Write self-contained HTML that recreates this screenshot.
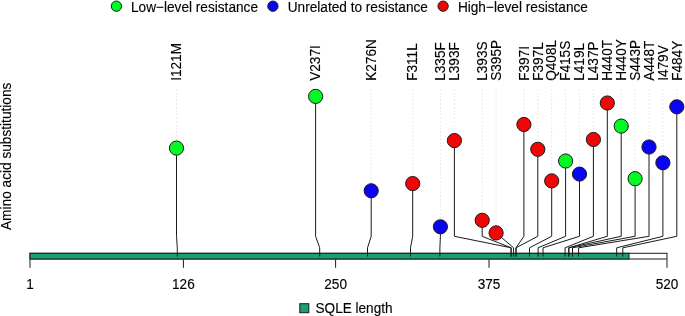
<!DOCTYPE html>
<html><head><meta charset="utf-8"><title>SQLE lollipop</title>
<style>
html,body{margin:0;padding:0;background:#fff;}
svg{display:block;will-change:transform;}
text{font-family:"Liberation Sans",Arial,Helvetica,sans-serif;font-size:13.6px;fill:#000;stroke:#000;stroke-width:0.12px;}
</style></head><body>
<svg width="685" height="316" viewBox="0 0 685 316">
<rect x="0" y="0" width="685" height="316" fill="#fff"/>

<circle cx="116.4" cy="6.2" r="5.15" fill="#02F926" stroke="#1a1a1a" stroke-width="1"/>
<text transform="translate(131.0,11.5) scale(1,1.09)" style="font-size:13.65px">Low−level resistance</text>
<circle cx="272.9" cy="6.2" r="5.15" fill="#0905F3" stroke="#1a1a1a" stroke-width="1"/>
<text transform="translate(287.7,11.5) scale(1,1.09)" style="font-size:13.65px">Unrelated to resistance</text>
<circle cx="443.1" cy="6.2" r="5.15" fill="#F20505" stroke="#1a1a1a" stroke-width="1"/>
<text transform="translate(457.9,11.5) scale(1,1.09)" style="font-size:13.65px">High−level resistance</text>
<text transform="translate(11.1,156.3) rotate(-90) scale(1,1.07)" text-anchor="middle" style="font-size:13.68px">Amino acid substitutions</text>
<line x1="176.5" y1="89.3" x2="176.5" y2="141.1" stroke="#cccccc" stroke-width="0.8" stroke-dasharray="1 2.55"/>
<line x1="315.6" y1="89.3" x2="315.6" y2="89.4" stroke="#cccccc" stroke-width="0.8" stroke-dasharray="1 2.55"/>
<line x1="371.2" y1="89.3" x2="371.2" y2="183.8" stroke="#cccccc" stroke-width="0.8" stroke-dasharray="1 2.55"/>
<line x1="412.7" y1="89.3" x2="412.7" y2="176.6" stroke="#cccccc" stroke-width="0.8" stroke-dasharray="1 2.55"/>
<line x1="440.4" y1="89.3" x2="440.4" y2="219.8" stroke="#cccccc" stroke-width="0.8" stroke-dasharray="1 2.55"/>
<line x1="454.4" y1="89.3" x2="454.4" y2="133.6" stroke="#cccccc" stroke-width="0.8" stroke-dasharray="1 2.55"/>
<line x1="482.2" y1="89.3" x2="482.2" y2="213.3" stroke="#cccccc" stroke-width="0.8" stroke-dasharray="1 2.55"/>
<line x1="496.1" y1="89.3" x2="496.1" y2="225.9" stroke="#cccccc" stroke-width="0.8" stroke-dasharray="1 2.55"/>
<line x1="523.9" y1="89.3" x2="523.9" y2="117.5" stroke="#cccccc" stroke-width="0.8" stroke-dasharray="1 2.55"/>
<line x1="537.8" y1="89.3" x2="537.8" y2="142.3" stroke="#cccccc" stroke-width="0.8" stroke-dasharray="1 2.55"/>
<line x1="551.7" y1="89.3" x2="551.7" y2="173.9" stroke="#cccccc" stroke-width="0.8" stroke-dasharray="1 2.55"/>
<line x1="565.6" y1="89.3" x2="565.6" y2="154.0" stroke="#cccccc" stroke-width="0.8" stroke-dasharray="1 2.55"/>
<line x1="579.5" y1="89.3" x2="579.5" y2="167.1" stroke="#cccccc" stroke-width="0.8" stroke-dasharray="1 2.55"/>
<line x1="593.4" y1="89.3" x2="593.4" y2="132.5" stroke="#cccccc" stroke-width="0.8" stroke-dasharray="1 2.55"/>
<line x1="607.3" y1="89.3" x2="607.3" y2="96.0" stroke="#cccccc" stroke-width="0.8" stroke-dasharray="1 2.55"/>
<line x1="621.2" y1="89.3" x2="621.2" y2="119.1" stroke="#cccccc" stroke-width="0.8" stroke-dasharray="1 2.55"/>
<line x1="635.1" y1="89.3" x2="635.1" y2="171.7" stroke="#cccccc" stroke-width="0.8" stroke-dasharray="1 2.55"/>
<line x1="649.0" y1="89.3" x2="649.0" y2="140.0" stroke="#cccccc" stroke-width="0.8" stroke-dasharray="1 2.55"/>
<line x1="662.9" y1="89.3" x2="662.9" y2="155.8" stroke="#cccccc" stroke-width="0.8" stroke-dasharray="1 2.55"/>
<line x1="676.8" y1="89.3" x2="676.8" y2="99.8" stroke="#cccccc" stroke-width="0.8" stroke-dasharray="1 2.55"/>
<rect x="30.0" y="253.3" width="637.0" height="5.7" fill="#fff" stroke="#1a1a1a" stroke-width="1"/>
<rect x="30.0" y="253.3" width="599.0" height="5.7" fill="#1B9E77" stroke="#1a1a1a" stroke-width="1"/>
<path d="M176.5 148.1 L176.5 236.3 L177.3 247.8 L177.3 256.5" fill="none" stroke="#1a1a1a" stroke-width="1" stroke-linejoin="round"/>
<path d="M315.6 96.4 L315.6 236.3 L319.7 247.8 L319.7 256.5" fill="none" stroke="#1a1a1a" stroke-width="1" stroke-linejoin="round"/>
<path d="M371.2 190.8 L371.2 236.3 L367.5 247.8 L367.5 256.5" fill="none" stroke="#1a1a1a" stroke-width="1" stroke-linejoin="round"/>
<path d="M412.7 183.6 L412.7 236.3 L410.5 247.8 L410.5 256.5" fill="none" stroke="#1a1a1a" stroke-width="1" stroke-linejoin="round"/>
<path d="M440.4 226.8 L440.4 236.3 L439.9 247.8 L439.9 256.5" fill="none" stroke="#1a1a1a" stroke-width="1" stroke-linejoin="round"/>
<path d="M454.4 140.6 L454.4 236.3 L511.1 247.8 L511.1 256.5" fill="none" stroke="#1a1a1a" stroke-width="1" stroke-linejoin="round"/>
<path d="M482.2 220.3 L482.2 236.3 L511.1 247.8 L511.1 256.5" fill="none" stroke="#1a1a1a" stroke-width="1" stroke-linejoin="round"/>
<path d="M496.1 232.9 L513.6 247.8 L513.6 256.5" fill="none" stroke="#1a1a1a" stroke-width="1" stroke-linejoin="round"/>
<path d="M523.9 124.5 L523.9 236.3 L516.0 247.8 L516.0 256.5" fill="none" stroke="#1a1a1a" stroke-width="1" stroke-linejoin="round"/>
<path d="M537.8 149.3 L537.8 236.3 L516.0 247.8 L516.0 256.5" fill="none" stroke="#1a1a1a" stroke-width="1" stroke-linejoin="round"/>
<path d="M551.7 180.9 L551.7 236.3 L529.5 247.8 L529.5 256.5" fill="none" stroke="#1a1a1a" stroke-width="1" stroke-linejoin="round"/>
<path d="M565.6 161 L565.6 236.3 L538.1 247.8 L538.1 256.5" fill="none" stroke="#1a1a1a" stroke-width="1" stroke-linejoin="round"/>
<path d="M579.5 174.1 L579.5 236.3 L543.0 247.8 L543.0 256.5" fill="none" stroke="#1a1a1a" stroke-width="1" stroke-linejoin="round"/>
<path d="M593.4 139.5 L593.4 236.3 L565.1 247.8 L565.1 256.5" fill="none" stroke="#1a1a1a" stroke-width="1" stroke-linejoin="round"/>
<path d="M607.3 103 L607.3 236.3 L568.8 247.8 L568.8 256.5" fill="none" stroke="#1a1a1a" stroke-width="1" stroke-linejoin="round"/>
<path d="M621.2 126.1 L621.2 236.3 L568.8 247.8 L568.8 256.5" fill="none" stroke="#1a1a1a" stroke-width="1" stroke-linejoin="round"/>
<path d="M635.1 178.7 L635.1 236.3 L572.5 247.8 L572.5 256.5" fill="none" stroke="#1a1a1a" stroke-width="1" stroke-linejoin="round"/>
<path d="M649.0 147 L649.0 236.3 L578.6 247.8 L578.6 256.5" fill="none" stroke="#1a1a1a" stroke-width="1" stroke-linejoin="round"/>
<path d="M662.9 162.8 L662.9 236.3 L616.7 247.8 L616.7 256.5" fill="none" stroke="#1a1a1a" stroke-width="1" stroke-linejoin="round"/>
<path d="M676.8 106.8 L676.8 236.3 L622.8 247.8 L622.8 256.5" fill="none" stroke="#1a1a1a" stroke-width="1" stroke-linejoin="round"/>
<circle cx="176.5" cy="148.1" r="7.1" fill="#02F926" stroke="#1a1a1a" stroke-width="1"/>
<circle cx="315.6" cy="96.4" r="7.1" fill="#02F926" stroke="#1a1a1a" stroke-width="1"/>
<circle cx="371.2" cy="190.8" r="7.1" fill="#0905F3" stroke="#1a1a1a" stroke-width="1"/>
<circle cx="412.7" cy="183.6" r="7.1" fill="#F20505" stroke="#1a1a1a" stroke-width="1"/>
<circle cx="440.4" cy="226.8" r="7.1" fill="#0905F3" stroke="#1a1a1a" stroke-width="1"/>
<circle cx="454.4" cy="140.6" r="7.1" fill="#F20505" stroke="#1a1a1a" stroke-width="1"/>
<circle cx="482.2" cy="220.3" r="7.1" fill="#F20505" stroke="#1a1a1a" stroke-width="1"/>
<circle cx="496.1" cy="232.9" r="7.1" fill="#F20505" stroke="#1a1a1a" stroke-width="1"/>
<circle cx="523.9" cy="124.5" r="7.1" fill="#F20505" stroke="#1a1a1a" stroke-width="1"/>
<circle cx="537.8" cy="149.3" r="7.1" fill="#F20505" stroke="#1a1a1a" stroke-width="1"/>
<circle cx="551.7" cy="180.9" r="7.1" fill="#F20505" stroke="#1a1a1a" stroke-width="1"/>
<circle cx="565.6" cy="161" r="7.1" fill="#02F926" stroke="#1a1a1a" stroke-width="1"/>
<circle cx="579.5" cy="174.1" r="7.1" fill="#0905F3" stroke="#1a1a1a" stroke-width="1"/>
<circle cx="593.4" cy="139.5" r="7.1" fill="#F20505" stroke="#1a1a1a" stroke-width="1"/>
<circle cx="607.3" cy="103" r="7.1" fill="#F20505" stroke="#1a1a1a" stroke-width="1"/>
<circle cx="621.2" cy="126.1" r="7.1" fill="#02F926" stroke="#1a1a1a" stroke-width="1"/>
<circle cx="635.1" cy="178.7" r="7.1" fill="#02F926" stroke="#1a1a1a" stroke-width="1"/>
<circle cx="649.0" cy="147" r="7.1" fill="#0905F3" stroke="#1a1a1a" stroke-width="1"/>
<circle cx="662.9" cy="162.8" r="7.1" fill="#0905F3" stroke="#1a1a1a" stroke-width="1"/>
<circle cx="676.8" cy="106.8" r="7.1" fill="#0905F3" stroke="#1a1a1a" stroke-width="1"/>
<text transform="translate(181.25,80.8) rotate(-90) scale(1,1.07)">I121M</text>
<text transform="translate(320.35,80.8) rotate(-90) scale(1,1.07)">V237I</text>
<text transform="translate(375.95,80.8) rotate(-90) scale(1,1.07)">K276N</text>
<text transform="translate(417.45,80.8) rotate(-90) scale(1,1.07)">F311L</text>
<text transform="translate(445.15,80.8) rotate(-90) scale(1,1.07)">L335F</text>
<text transform="translate(459.15,80.8) rotate(-90) scale(1,1.07)">L393F</text>
<text transform="translate(486.95,80.8) rotate(-90) scale(1,1.07)">L393S</text>
<text transform="translate(500.85,80.8) rotate(-90) scale(1,1.07)">S395P</text>
<text transform="translate(528.65,80.8) rotate(-90) scale(1,1.07)">F397I</text>
<text transform="translate(542.55,80.8) rotate(-90) scale(1,1.07)">F397L</text>
<text transform="translate(556.45,80.8) rotate(-90) scale(1,1.07)">Q408L</text>
<text transform="translate(570.35,80.8) rotate(-90) scale(1,1.07)">F415S</text>
<text transform="translate(584.25,80.8) rotate(-90) scale(1,1.07)">L419L</text>
<text transform="translate(598.15,80.8) rotate(-90) scale(1,1.07)">L437P</text>
<text transform="translate(612.05,80.8) rotate(-90) scale(1,1.07)">H440T</text>
<text transform="translate(625.95,80.8) rotate(-90) scale(1,1.07)">H440Y</text>
<text transform="translate(639.85,80.8) rotate(-90) scale(1,1.07)">S443P</text>
<text transform="translate(653.75,80.8) rotate(-90) scale(1,1.07)">A448T</text>
<text transform="translate(667.65,80.8) rotate(-90) scale(1,1.07)">I479V</text>
<text transform="translate(681.55,80.8) rotate(-90) scale(1,1.07)">F484Y</text>
<line x1="30.0" y1="259.5" x2="30.0" y2="267.8" stroke="#1a1a1a" stroke-width="1"/>
<text transform="translate(30.0,288.6) scale(1,1.09)" text-anchor="middle">1</text>
<line x1="183.4" y1="259.5" x2="183.4" y2="267.8" stroke="#1a1a1a" stroke-width="1"/>
<text transform="translate(183.4,288.6) scale(1,1.09)" text-anchor="middle">126</text>
<line x1="335.6" y1="259.5" x2="335.6" y2="267.8" stroke="#1a1a1a" stroke-width="1"/>
<text transform="translate(335.6,288.6) scale(1,1.09)" text-anchor="middle">250</text>
<line x1="489.0" y1="259.5" x2="489.0" y2="267.8" stroke="#1a1a1a" stroke-width="1"/>
<text transform="translate(489.0,288.6) scale(1,1.09)" text-anchor="middle">375</text>
<line x1="667.0" y1="259.5" x2="667.0" y2="267.8" stroke="#1a1a1a" stroke-width="1"/>
<text transform="translate(667.0,288.6) scale(1,1.09)" text-anchor="middle">520</text>
<rect x="299.8" y="303.7" width="9" height="9" fill="#1B9E77" stroke="#1a1a1a" stroke-width="1"/>
<text transform="translate(315.5,312.8) scale(1,1.06)">SQLE length</text>
</svg></body></html>
